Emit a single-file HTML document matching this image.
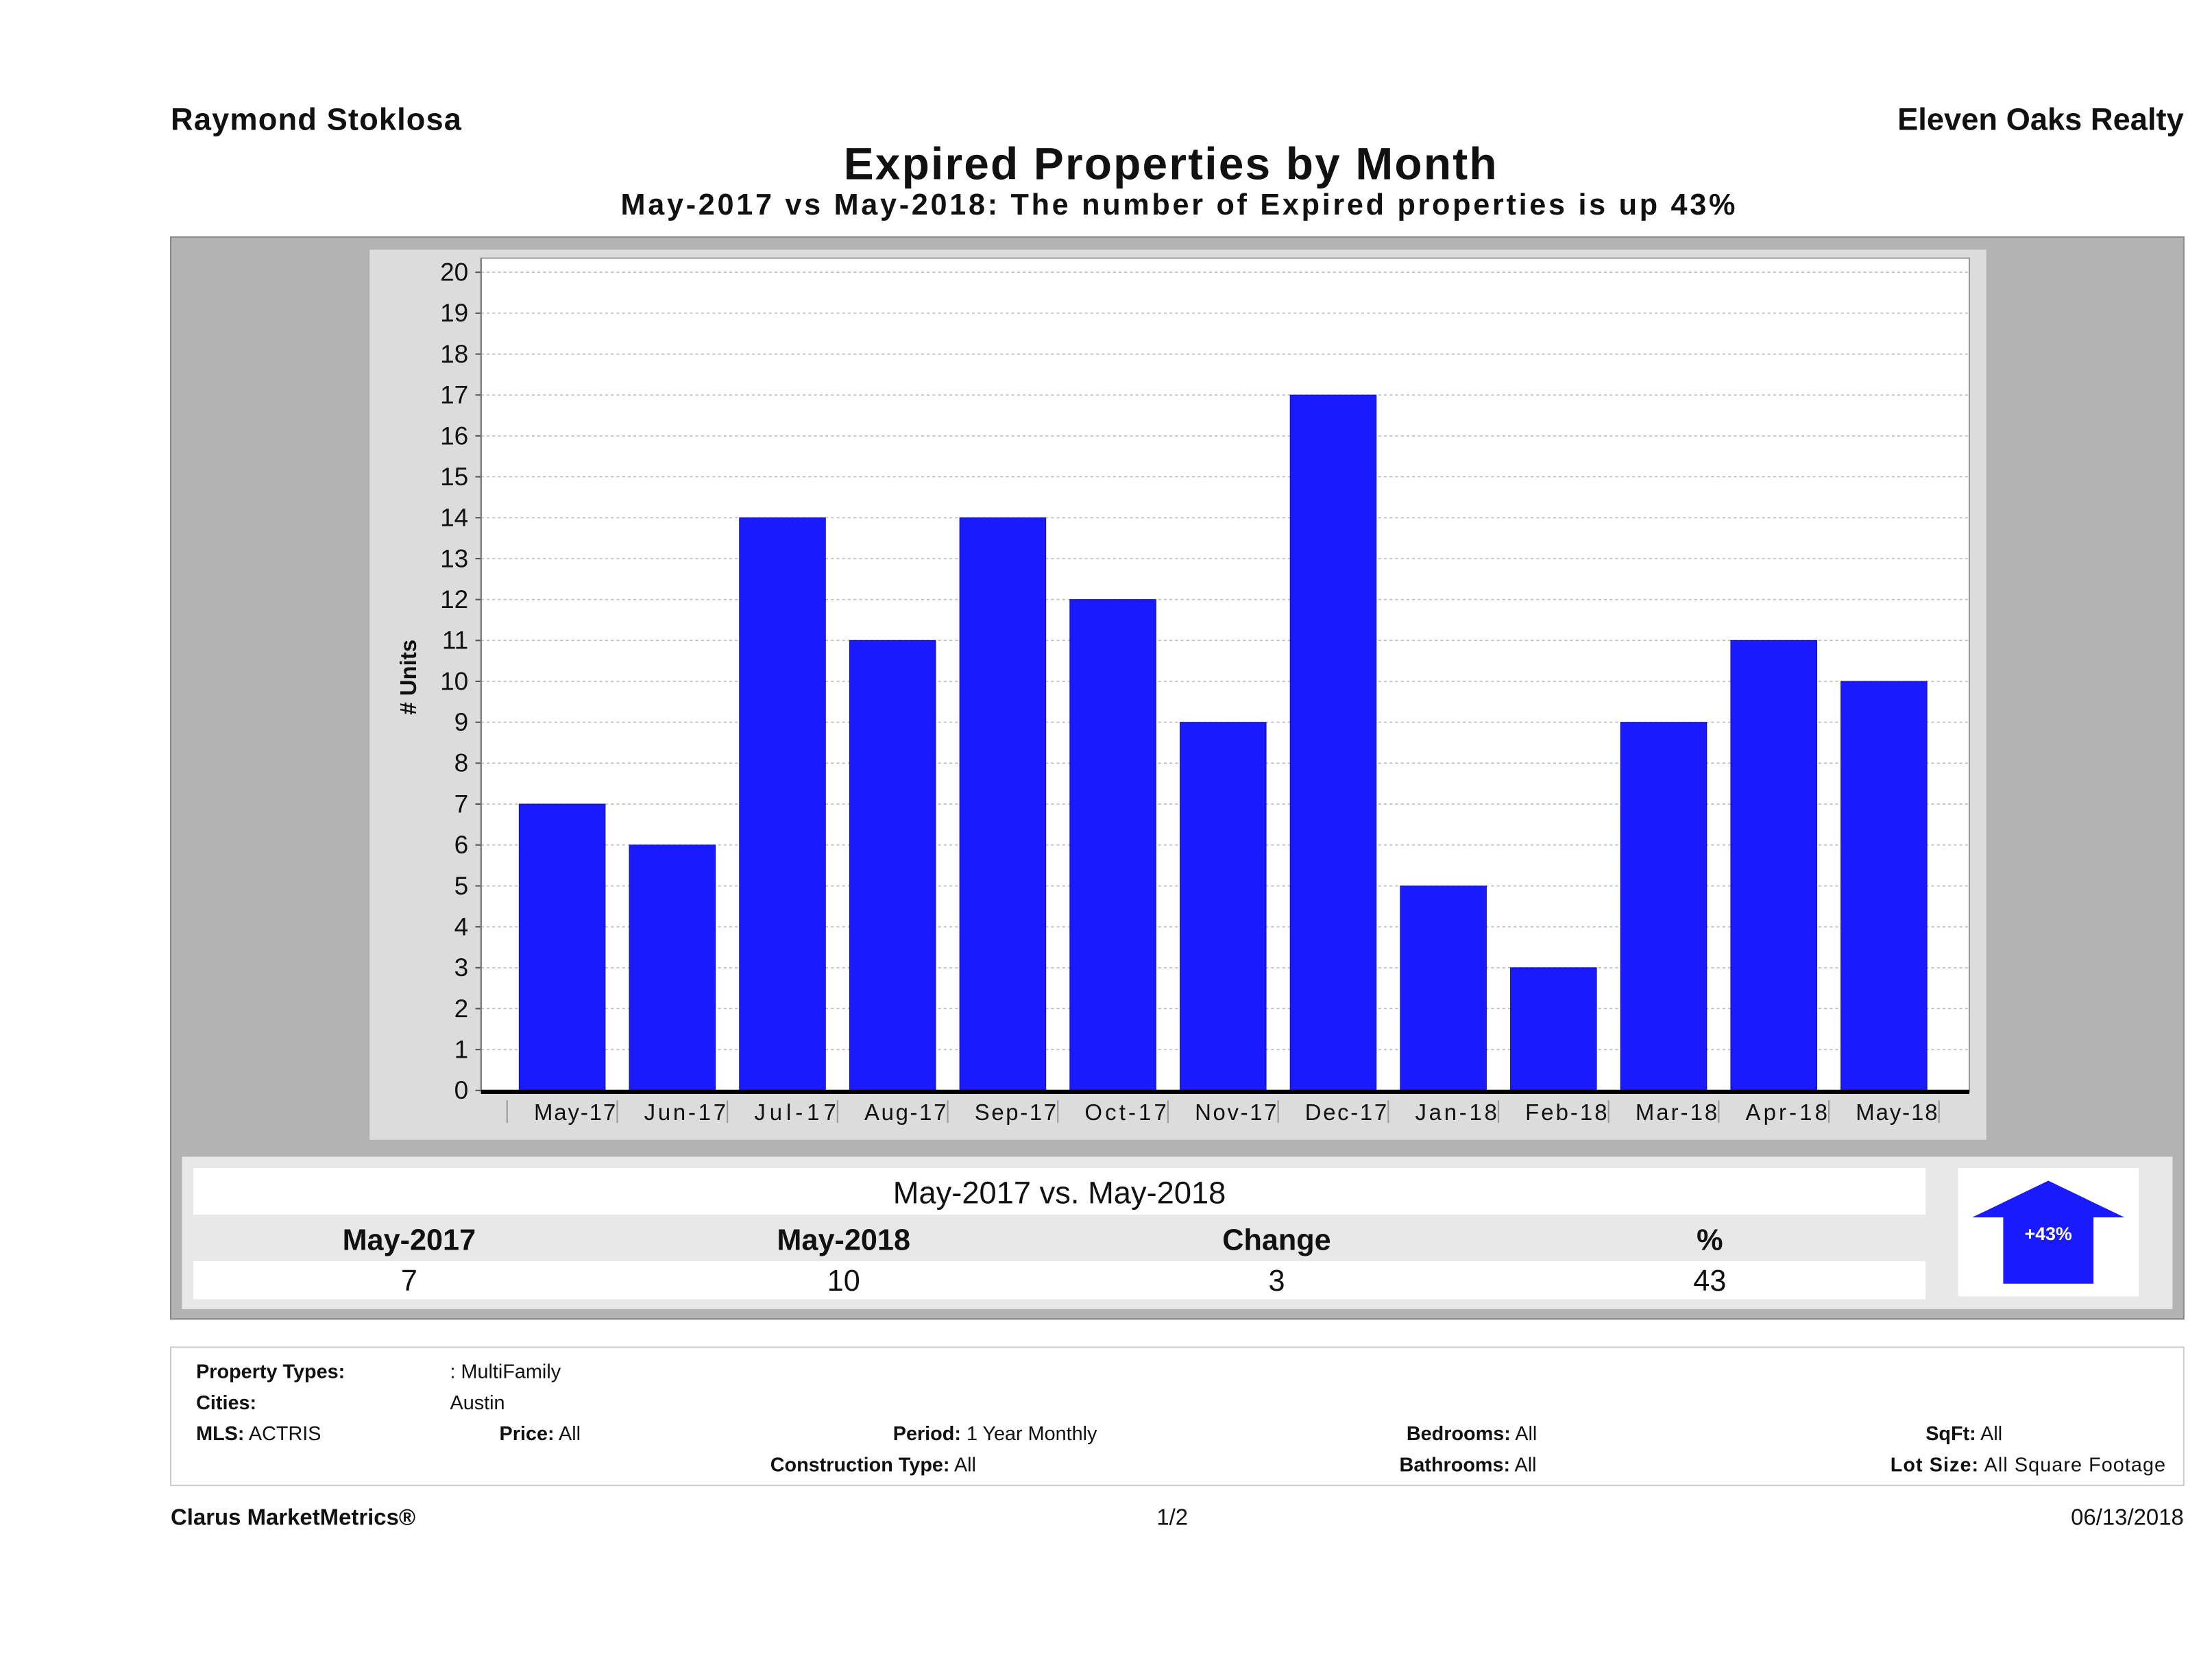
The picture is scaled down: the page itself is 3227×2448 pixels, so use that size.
<!DOCTYPE html>
<html><head><meta charset="utf-8"><style>
html,body{margin:0;padding:0;background:#fff}
svg{display:block}
text{font-family:"Liberation Sans",sans-serif}
</style></head><body>
<svg id="root" width="3227" height="2448" viewBox="0 0 1568 1189.5" xmlns="http://www.w3.org/2000/svg">
<rect width="1568" height="1189.5" fill="#fff"/>
<text x="121" y="92" font-size="22" font-weight="bold" fill="#111" textLength="206">Raymond Stoklosa</text>
<text x="1548" y="92" font-size="22" font-weight="bold" fill="#111" text-anchor="end">Eleven Oaks Realty</text>
<text x="598" y="127" font-size="32" font-weight="bold" fill="#111" textLength="463">Expired Properties by Month</text>
<text x="440" y="152" font-size="21" font-weight="bold" fill="#111" textLength="790">May-2017 vs May-2018: The number of Expired  properties is up 43%</text>

<rect x="121" y="168" width="1427" height="767" fill="#b3b3b3" stroke="#888" stroke-width="1"/>
<rect x="262" y="177" width="1146" height="631" fill="#dcdcdc"/>
<rect x="341" y="183" width="1055" height="591" fill="#fff" stroke="#999" stroke-width="1"/>
<g id="grid"></g>
<g id="bars"></g>
<g id="yaxis"></g>
<g id="xaxis"></g>
<text transform="translate(295,480) rotate(-90)" font-size="16" font-weight="bold" fill="#111" text-anchor="middle"># Units</text>

<rect x="129" y="820" width="1411" height="108" fill="#e8e8e8"/>
<rect x="137" y="828" width="1228" height="33" fill="#fff"/>
<rect x="137" y="894" width="1228" height="27" fill="#fff"/>
<text x="751" y="853" font-size="22" fill="#111" text-anchor="middle">May-2017 vs. May-2018</text>
<g font-size="21" font-weight="bold" fill="#111" text-anchor="middle">
<text x="290" y="886">May-2017</text>
<text x="598" y="886">May-2018</text>
<text x="905" y="886">Change</text>
<text x="1212" y="886">%</text>
</g>
<g font-size="21" fill="#111" text-anchor="middle">
<text x="290" y="915">7</text>
<text x="598" y="915">10</text>
<text x="905" y="915">3</text>
<text x="1212" y="915">43</text>
</g>
<rect x="1388" y="828" width="128" height="91" fill="#fff"/>
<polygon points="1398,863 1452,837 1506,863 1484,863 1484,910 1420,910 1420,863" fill="#1a1aff"/>
<text x="1452" y="879" font-size="13" font-weight="bold" fill="#fff" text-anchor="middle">+43%</text>

<rect x="121" y="955" width="1427" height="98" fill="#fff" stroke="#ccc" stroke-width="1"/>
<g font-size="14" fill="#111">
<text x="139" y="977" font-weight="bold">Property Types:</text>
<text x="319" y="977">: MultiFamily</text>
<text x="139" y="999" font-weight="bold">Cities:</text>
<text x="319" y="999">Austin</text>
<text x="139" y="1021"><tspan font-weight="bold">MLS:</tspan>  ACTRIS</text>
<text x="354" y="1021"><tspan font-weight="bold">Price:</tspan> All</text>
<text x="633" y="1021"><tspan font-weight="bold">Period:</tspan> 1 Year Monthly</text>
<text x="546" y="1043"><tspan font-weight="bold">Construction Type:</tspan> All</text>
<text x="997" y="1021"><tspan font-weight="bold">Bedrooms:</tspan> All</text>
<text x="992" y="1043"><tspan font-weight="bold">Bathrooms:</tspan> All</text>
<text x="1365" y="1021"><tspan font-weight="bold">SqFt:</tspan>  All</text>
<text x="1340" y="1043" textLength="195"><tspan font-weight="bold">Lot Size:</tspan>  All Square Footage</text>
</g>
<text x="121" y="1081" font-size="16" font-weight="bold" fill="#111">Clarus MarketMetrics®</text>
<text x="831" y="1081" font-size="16" fill="#111" text-anchor="middle">1/2</text>
<text x="1548" y="1081" font-size="16" fill="#111" text-anchor="end">06/13/2018</text>
</svg>
<script>
const categories = ["May-17","Jun-17","Jul-17","Aug-17","Sep-17","Oct-17","Nov-17","Dec-17","Jan-18","Feb-18","Mar-18","Apr-18","May-18"];
const values = [7,6,14,11,14,12,9,17,5,3,9,11,10];
const yTicks = [0,1,2,3,4,5,6,7,8,9,10,11,12,13,14,15,16,17,18,19,20];

const NS = "http://www.w3.org/2000/svg";
const plotL = 341, plotR = 1396, y0 = 773, y20 = 193, yMax = 20;
function yScale(v){ return y0 - (y0 - y20) * v / yMax; }
const firstX = 368, step = 78.08, barW = 61;
function xScale(i){ return firstX + i * step; }
function mk(tag, attrs, parent){ const e = document.createElementNS(NS, tag); for (const k in attrs) e.setAttribute(k, attrs[k]); parent.appendChild(e); return e; }

const grid = document.getElementById('grid'), bars = document.getElementById('bars');
const yaxis = document.getElementById('yaxis'), xaxis = document.getElementById('xaxis');

yTicks.forEach(t => {
  const y = yScale(t);
  if (t > 0) {
    const g = mk('line', {x1: plotL, x2: plotR, y1: y, y2: y, stroke: '#bbb', 'stroke-width': 0.8, 'stroke-dasharray': '2,2'}, grid);
    
    
  }
  const tk = mk('line', {x1: plotL - 4, x2: plotL, y1: y, y2: y, stroke: '#555', 'stroke-width': 1}, yaxis);
  
  
  const lb = mk('text', {x: 332, y: y + 6, 'font-size': 18, fill: '#111', 'text-anchor': 'end'}, yaxis);
  lb.textContent = t;
  
  
});
const ax = mk('line', {x1: plotL, x2: plotL, y1: 183, y2: y0, stroke: '#777', 'stroke-width': 1}, yaxis);



values.forEach((v, i) => {
  const x = xScale(i), y = yScale(v);
  const r = mk('rect', {x: x, y: y, width: barW, height: y0 - y, fill: '#1a1aff', stroke: '#1010c0', 'stroke-width': 0.5}, bars);
  
  
});

const base = mk('line', {x1: plotL, x2: plotR, y1: y0 + 1, y2: y0 + 1, stroke: '#000', 'stroke-width': 3}, xaxis);


categories.forEach((c, i) => {
  const cx = xScale(i) + barW / 2;
  const sep = mk('line', {x1: cx - step / 2, x2: cx - step / 2, y1: 780, y2: 796, stroke: '#999', 'stroke-width': 1}, xaxis);
  
  
  const lb = mk('text', {x: cx + 9, y: 794, 'font-size': 16, fill: '#111', 'text-anchor': 'middle', textLength: 58}, xaxis);
  lb.textContent = c;
  
  
});
const lastSep = mk('line', {x1: xScale(categories.length - 1) + barW / 2 + step / 2, x2: xScale(categories.length - 1) + barW / 2 + step / 2, y1: 780, y2: 796, stroke: '#999', 'stroke-width': 1}, xaxis);


</script>
</body></html>
